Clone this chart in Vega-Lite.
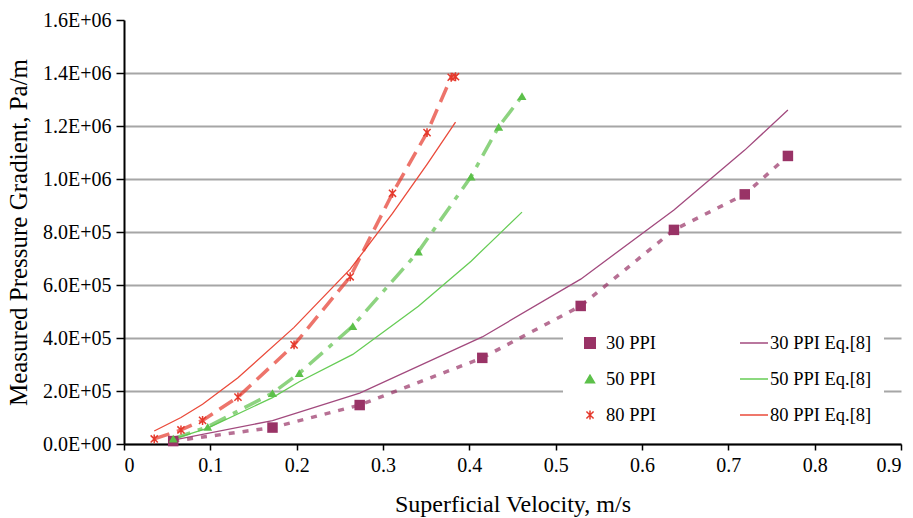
{
  "$schema": "https://vega.github.io/schema/vega-lite/v6.json",
  "width": 777,
  "height": 424,
  "autosize": {"type": "none"},
  "padding": {"left": 124, "top": 20, "right": 12, "bottom": 74},
  "background": "white",
  "config": {
    "view": {"stroke": null},
    "font": "Liberation Serif",
    "axis": {
      "labelFont": "Liberation Serif",
      "titleFont": "Liberation Serif",
      "labelFontSize": 20,
      "titleFontSize": 24,
      "titleFontWeight": "normal",
      "labelColor": "black",
      "titleColor": "black",
      "domainColor": "black",
      "domainWidth": 2,
      "tickColor": "black",
      "tickWidth": 1.5
    },
    "legend": {
      "labelFont": "Liberation Serif",
      "labelFontSize": 18.5,
      "labelColor": "black"
    }
  },
  "data": {
    "values": [
      {"v": 0.057, "g": 11000, "series": "30 PPI", "kind": "meas"},
      {"v": 0.172, "g": 62000, "series": "30 PPI", "kind": "meas"},
      {"v": 0.273, "g": 147000, "series": "30 PPI", "kind": "meas"},
      {"v": 0.415, "g": 325000, "series": "30 PPI", "kind": "meas"},
      {"v": 0.529, "g": 521000, "series": "30 PPI", "kind": "meas"},
      {"v": 0.637, "g": 808000, "series": "30 PPI", "kind": "meas"},
      {"v": 0.719, "g": 942000, "series": "30 PPI", "kind": "meas"},
      {"v": 0.769, "g": 1087000, "series": "30 PPI", "kind": "meas"},
      {"v": 0.057, "g": 15000, "series": "30 PPI Eq.[8]", "kind": "eq"},
      {"v": 0.172, "g": 88000, "series": "30 PPI Eq.[8]", "kind": "eq"},
      {"v": 0.273, "g": 192000, "series": "30 PPI Eq.[8]", "kind": "eq"},
      {"v": 0.415, "g": 404000, "series": "30 PPI Eq.[8]", "kind": "eq"},
      {"v": 0.529, "g": 622000, "series": "30 PPI Eq.[8]", "kind": "eq"},
      {"v": 0.637, "g": 883000, "series": "30 PPI Eq.[8]", "kind": "eq"},
      {"v": 0.719, "g": 1109000, "series": "30 PPI Eq.[8]", "kind": "eq"},
      {"v": 0.769, "g": 1260000, "series": "30 PPI Eq.[8]", "kind": "eq"},
      {"v": 0.057, "g": 20000, "series": "50 PPI", "kind": "meas"},
      {"v": 0.097, "g": 65000, "series": "50 PPI", "kind": "meas"},
      {"v": 0.172, "g": 192000, "series": "50 PPI", "kind": "meas"},
      {"v": 0.203, "g": 267000, "series": "50 PPI", "kind": "meas"},
      {"v": 0.265, "g": 445000, "series": "50 PPI", "kind": "meas"},
      {"v": 0.341, "g": 726000, "series": "50 PPI", "kind": "meas"},
      {"v": 0.402, "g": 1009000, "series": "50 PPI", "kind": "meas"},
      {"v": 0.434, "g": 1197000, "series": "50 PPI", "kind": "meas"},
      {"v": 0.461, "g": 1313000, "series": "50 PPI", "kind": "meas"},
      {"v": 0.057, "g": 18000, "series": "50 PPI Eq.[8]", "kind": "eq"},
      {"v": 0.097, "g": 60000, "series": "50 PPI Eq.[8]", "kind": "eq"},
      {"v": 0.172, "g": 175000, "series": "50 PPI Eq.[8]", "kind": "eq"},
      {"v": 0.203, "g": 235000, "series": "50 PPI Eq.[8]", "kind": "eq"},
      {"v": 0.265, "g": 338000, "series": "50 PPI Eq.[8]", "kind": "eq"},
      {"v": 0.341, "g": 520000, "series": "50 PPI Eq.[8]", "kind": "eq"},
      {"v": 0.402, "g": 690000, "series": "50 PPI Eq.[8]", "kind": "eq"},
      {"v": 0.434, "g": 790000, "series": "50 PPI Eq.[8]", "kind": "eq"},
      {"v": 0.461, "g": 875000, "series": "50 PPI Eq.[8]", "kind": "eq"},
      {"v": 0.035, "g": 19000, "series": "80 PPI", "kind": "meas"},
      {"v": 0.066, "g": 53000, "series": "80 PPI", "kind": "meas"},
      {"v": 0.091, "g": 89000, "series": "80 PPI", "kind": "meas"},
      {"v": 0.132, "g": 177000, "series": "80 PPI", "kind": "meas"},
      {"v": 0.197, "g": 374000, "series": "80 PPI", "kind": "meas"},
      {"v": 0.262, "g": 631000, "series": "80 PPI", "kind": "meas"},
      {"v": 0.311, "g": 946000, "series": "80 PPI", "kind": "meas"},
      {"v": 0.351, "g": 1175000, "series": "80 PPI", "kind": "meas"},
      {"v": 0.379, "g": 1384000, "series": "80 PPI", "kind": "meas"},
      {"v": 0.384, "g": 1386000, "series": "80 PPI", "kind": "meas"},
      {"v": 0.035, "g": 49000, "series": "80 PPI Eq.[8]", "kind": "eq"},
      {"v": 0.066, "g": 100000, "series": "80 PPI Eq.[8]", "kind": "eq"},
      {"v": 0.091, "g": 150000, "series": "80 PPI Eq.[8]", "kind": "eq"},
      {"v": 0.132, "g": 250000, "series": "80 PPI Eq.[8]", "kind": "eq"},
      {"v": 0.197, "g": 440000, "series": "80 PPI Eq.[8]", "kind": "eq"},
      {"v": 0.262, "g": 660000, "series": "80 PPI Eq.[8]", "kind": "eq"},
      {"v": 0.311, "g": 870000, "series": "80 PPI Eq.[8]", "kind": "eq"},
      {"v": 0.351, "g": 1055000, "series": "80 PPI Eq.[8]", "kind": "eq"},
      {"v": 0.384, "g": 1215000, "series": "80 PPI Eq.[8]", "kind": "eq"}
    ]
  },
  "encoding": {
    "x": {
      "field": "v",
      "type": "quantitative",
      "scale": {"domain": [0, 0.9], "nice": false, "zero": false},
      "axis": {
        "title": "Superficial Velocity, m/s",
        "values": [0, 0.1, 0.2, 0.3, 0.4, 0.5, 0.6, 0.7, 0.8, 0.9],
        "format": ".1~f",
        "grid": false,
        "tickSize": 6,
        "labelPadding": 5,
        "titlePadding": 17
      }
    },
    "y": {
      "field": "g",
      "type": "quantitative",
      "scale": {"domain": [0, 1600000], "nice": false},
      "axis": {
        "title": "Measured Pressure Gradient, Pa/m",
        "titleFontSize": 25,
        "values": [0, 200000, 400000, 600000, 800000, 1000000, 1200000, 1400000, 1600000],
        "labelExpr": "datum.value == 0 ? '0.0E+00' : (datum.value >= 1000000 ? format(datum.value/1000000, '.1f') + 'E+06' : format(datum.value/100000, '.1f') + 'E+05')",
        "grid": true,
        "gridColor": "#A6A6A6",
        "gridWidth": 2,
        "gridOpacity": {"condition": {"test": "datum.value >= 1600000", "value": 0}, "value": 1},
        "tickSize": 8,
        "labelPadding": 5,
        "titlePadding": 11
      }
    },
    "color": {
      "field": "series",
      "type": "nominal",
      "scale": {
        "domain": ["30 PPI", "50 PPI", "80 PPI", "30 PPI Eq.[8]", "50 PPI Eq.[8]", "80 PPI Eq.[8]"],
        "range": ["#993366", "#5CC04A", "#E5392C", "#A24A7E", "#66CC55", "#EA4A3A"]
      },
      "legend": {
        "title": null,
        "orient": "none",
        "legendX": 439,
        "legendY": 296,
        "columns": 2,
        "columnPadding": 83,
        "rowPadding": 6,
        "clipHeight": 30,
        "padding": 12,
        "fillColor": "white",
        "labelOffset": 1,
        "labelLimit": 300,
        "symbolStrokeWidth": 1.5,
        "encode": {
          "symbols": {
            "update": {
              "opacity": {"value": 1}
            }
          }
        }
      }
    }
  },
  "layer": [
    {
      "transform": [{"filter": "datum.kind == 'eq'"}],
      "mark": {"type": "line", "strokeWidth": 1.3},
      "encoding": {"order": {"field": "v", "type": "quantitative"}}
    },
    {
      "transform": [{"filter": "datum.series == '30 PPI'"}],
      "mark": {"type": "line", "strokeWidth": 3.5, "opacity": 0.7, "strokeDash": [6, 8]},
      "encoding": {"order": {"field": "v", "type": "quantitative"}}
    },
    {
      "transform": [{"filter": "datum.series == '50 PPI'"}],
      "mark": {"type": "line", "strokeWidth": 3.5, "opacity": 0.7, "strokeDash": [18, 8, 5, 8]},
      "encoding": {"order": {"field": "v", "type": "quantitative"}}
    },
    {
      "transform": [{"filter": "datum.series == '80 PPI'"}],
      "mark": {"type": "line", "strokeWidth": 3.5, "opacity": 0.7, "strokeDash": [16, 8]},
      "encoding": {"order": {"field": "v", "type": "quantitative"}}
    },
    {
      "transform": [{"filter": "datum.kind == 'meas' && datum.series != '80 PPI'"}],
      "mark": {"type": "point", "filled": true, "opacity": 1},
      "encoding": {
        "shape": {
          "field": "series",
          "type": "nominal",
          "scale": {
            "domain": ["30 PPI", "50 PPI", "80 PPI", "30 PPI Eq.[8]", "50 PPI Eq.[8]", "80 PPI Eq.[8]"],
            "range": ["square", "triangle-up", "M0,-1L0,1M-0.8,-0.8L0.8,0.8M-0.8,0.8L0.8,-0.8", "stroke", "stroke", "stroke"]
          }
        },
        "size": {
          "field": "series",
          "type": "nominal",
          "scale": {
            "type": "ordinal",
            "domain": ["30 PPI", "50 PPI", "80 PPI", "30 PPI Eq.[8]", "50 PPI Eq.[8]", "80 PPI Eq.[8]"],
            "range": [110, 80, 80, 784, 784, 784]
          }
        }
      }
    },
    {
      "transform": [{"filter": "datum.series == '80 PPI'"}],
      "mark": {"type": "point", "filled": false, "opacity": 1, "strokeWidth": 1.5},
      "encoding": {
        "shape": {
          "field": "series",
          "type": "nominal",
          "scale": {
            "domain": ["30 PPI", "50 PPI", "80 PPI", "30 PPI Eq.[8]", "50 PPI Eq.[8]", "80 PPI Eq.[8]"],
            "range": ["square", "triangle-up", "M0,-1L0,1M-0.8,-0.8L0.8,0.8M-0.8,0.8L0.8,-0.8", "stroke", "stroke", "stroke"]
          }
        },
        "size": {
          "field": "series",
          "type": "nominal",
          "scale": {
            "type": "ordinal",
            "domain": ["30 PPI", "50 PPI", "80 PPI", "30 PPI Eq.[8]", "50 PPI Eq.[8]", "80 PPI Eq.[8]"],
            "range": [110, 80, 80, 784, 784, 784]
          }
        }
      }
    }
  ]
}
